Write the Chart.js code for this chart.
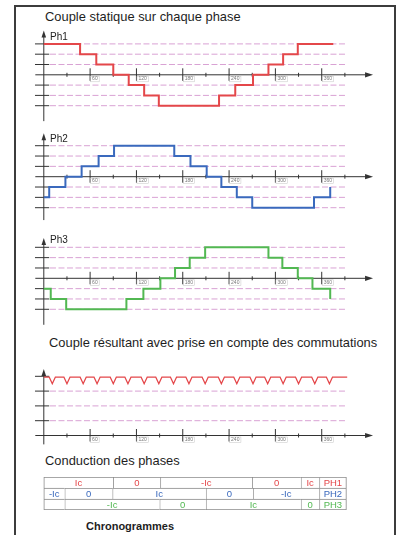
<!DOCTYPE html>
<html>
<head>
<meta charset="utf-8">
<script src="https://cdn.jsdelivr.net/npm/chart.js@4.4.1/dist/chart.umd.min.js"></script>
<style>
  html, body { margin: 0; padding: 0; background: #fff; }
  body { width: 400px; height: 535px; position: relative; overflow: hidden; font-family: "Liberation Sans", Arial, sans-serif; }
  .cadre { position: absolute; left: 14px; top: 5px; width: 382px; height: 600px; border: 2px solid #3c3c3c; box-sizing: border-box; }
  .titre { position: absolute; font-size: 12.9px; line-height: 1; color: #1e1e1e; white-space: nowrap; }
  .titre.gras { font-weight: bold; font-size: 11px; }
  canvas { position: absolute; left: 0; }
</style>
</head>
<body>
<div class="cadre"></div>
<div class="titre" style="left:45px;top:11px">Couple statique sur chaque phase</div>
<div class="titre" style="left:49px;top:337px">Couple résultant avec prise en compte des commutations</div>
<div class="titre" style="left:45px;top:455px">Conduction des phases</div>
<div class="titre gras" style="left:86px;top:521px">Chronogrammes</div>

<canvas id="ph1" width="400" height="104" style="top:24px"></canvas>
<canvas id="ph2" width="400" height="102" style="top:128px"></canvas>
<canvas id="ph3" width="400" height="100" style="top:230px"></canvas>
<canvas id="resultant" width="400" height="95" style="top:355px"></canvas>
<canvas id="conduction" width="400" height="33" style="top:477px"></canvas>

<script>
const majorTicks = [60, 120, 180, 240, 300, 360];
const minorTicks = [30, 90, 150, 210, 270, 330, 390];
const tickLabels = ["60", "120", "180", "240", "300", "360"];

// couple statique : angle de chaque changement de palier -> nouveau palier
const ph1Angles = [0, 47, 68, 90, 110, 130, 149, 227, 248, 271, 291, 310, 329, 375];
const ph1Levels = [3, 2, 1, 0, -1, -2, -3, -2, -1, 0, 1, 2, 3, 3];
const ph2Angles = [0, 7, 28, 49, 71, 91, 169, 190, 211, 230, 250, 270, 350, 371];
const ph2Levels = [-2, -1, 0, 1, 2, 3, 2, 1, 0, -1, -2, -3, -2, -1];
const ph3Angles = [0, 9, 29, 107, 129, 151, 170, 189, 209, 291, 309, 329, 348, 371];
const ph3Levels = [-1, -2, -3, -2, -1, 0, 1, 2, 3, 2, 1, 0, -1, -2];
const phaseGridLevels = [3, 2, 1, -1, -2, -3];

// couple résultant : creux aux commutations
const dipAngles = [11, 30, 51, 69, 90, 109, 130, 149, 168, 188, 209, 230, 250, 271, 290, 310, 330, 351, 370];
const resultantLevel = 3.95;
const dipLevel = 3.5;
const resultantGridLevels = [3, 2, 1];

// conduction des phases : [début, fin] de chaque case
const tableRows = ["PH1", "PH2", "PH3"];
const ph1Cells = [[0, 90], [90, 151], [151, 270], [270, 333], [333, 357], [357, 392]];
const ph2Cells = [[0, 27], [27, 89], [89, 210], [210, 271], [271, 357], [357, 392]];
const ph3Cells = [[0, 27], [27, 150], [150, 210], [210, 333], [333, 357], [357, 392]];
const ph1Texts = ["Ic", "0", "-Ic", "0", "Ic", "PH1"];
const ph2Texts = ["-Ic", "0", "Ic", "0", "-Ic", "PH2"];
const ph3Texts = ["", "-Ic", "0", "Ic", "0", "PH3"];

// --- mise en page ---
const X0 = 43.8, PX_PER_DEG = 0.772;
const xMin = -X0 / PX_PER_DEG, xMax = (400 - X0) / PX_PER_DEG;
const FONT = "'Liberation Sans', Arial, sans-serif";
const RED = "#e4474a", BLUE = "#3a69bd", GREEN = "#52b852";
const DASH = "#d9a2d4", AXIS = "#333";

// axes, flèches, graduations
const axesPlugin = {
    id: "axes",
    beforeDatasetsDraw(chart, args, o) {
        if (!o || !o.on) return;
        const ctx = chart.ctx;
        const px = v => chart.scales.x.getPixelForValue(v);
        const py = v => chart.scales.y.getPixelForValue(v);
        const x0 = px(0), y0 = py(0);
        ctx.save();
        ctx.strokeStyle = AXIS; ctx.fillStyle = AXIS; ctx.lineWidth = 1;
        const seg = (a, b, c, d) => { ctx.beginPath(); ctx.moveTo(a, b); ctx.lineTo(c, d); ctx.stroke(); };
        // axe horizontal + flèche
        const tip = px(426.5);
        seg(px(-11), y0, tip - 5, y0);
        ctx.beginPath(); ctx.moveTo(tip, y0); ctx.lineTo(tip - 8, y0 - 2.6); ctx.lineTo(tip - 8, y0 + 2.6); ctx.closePath(); ctx.fill();
        // axe vertical + flèche
        const top = py(o.yTop);
        seg(x0, py(o.yBottom), x0, top + 5);
        ctx.beginPath(); ctx.moveTo(x0, top); ctx.lineTo(x0 - 2.3, top + 7); ctx.lineTo(x0 + 2.3, top + 7); ctx.closePath(); ctx.fill();
        // graduations verticales
        o.yTicks.forEach(l => seg(px(-11.4), py(l), px(7), py(l)));
        // graduations horizontales
        majorTicks.forEach(d => seg(px(d), y0 - 6.5, px(d), y0 + 6));
        minorTicks.forEach(d => seg(px(d), y0 - 2, px(d), y0 + 2));
        ctx.font = "5px " + FONT;
        ctx.textBaseline = "middle";
        majorTicks.forEach((d, i) => {
            const w = ctx.measureText(tickLabels[i]).width;
            ctx.strokeStyle = "#c4c4c4"; ctx.lineWidth = 0.5;
            ctx.strokeRect(px(d) + 0.5, y0 + 1.5, w + 3, 5.5);
            ctx.fillStyle = "#7a7a7a";
            ctx.fillText(tickLabels[i], px(d) + 2, y0 + 4.3);
        });
        if (o.label) {
            ctx.fillStyle = "#222";
            ctx.font = "10px " + FONT;
            ctx.fillText(o.label, px(8), py(3.65));
        }
        ctx.restore();
    }
};

function dashed(levels) {
    return levels.map(l => ({
        data: [{ x: 8, y: l }, { x: 393, y: l }],
        borderColor: DASH, borderWidth: 1, borderDash: [6, 2.5], pointRadius: 0
    }));
}

function lineChart(id, axisY, step, main, grid, axes) {
    const c = document.getElementById(id);
    const top = parseFloat(c.style.top), h = c.height;
    new Chart(c, {
        type: "line",
        data: { datasets: [main].concat(dashed(grid)) },
        options: {
            responsive: false, animation: false,
            layout: { padding: 0 },
            plugins: { legend: { display: false }, tooltip: { enabled: false }, axes: axes },
            scales: {
                x: { type: "linear", min: xMin, max: xMax, display: false },
                y: { min: (axisY - top - h) / step, max: (axisY - top) / step, display: false }
            }
        },
        plugins: [axesPlugin]
    });
}

function stepSeries(angles, levels, color) {
    return {
        data: angles.map((a, i) => ({ x: a, y: levels[i] })),
        stepped: true, borderColor: color, borderWidth: 2, pointRadius: 0, fill: false
    };
}

lineChart("ph1", 74.8, 10.3, stepSeries(ph1Angles, ph1Levels, RED), phaseGridLevels,
    { on: true, yTicks: phaseGridLevels, yTop: 4.3, yBottom: -4.5, label: "Ph1" });
lineChart("ph2", 176.7, 10.33, stepSeries(ph2Angles, ph2Levels, BLUE), phaseGridLevels,
    { on: true, yTicks: phaseGridLevels, yTop: 4.2, yBottom: -4.2, label: "Ph2" });
lineChart("ph3", 278.3, 10.33, stepSeries(ph3Angles, ph3Levels, GREEN), phaseGridLevels,
    { on: true, yTicks: phaseGridLevels, yTop: 3.9, yBottom: -4.5, label: "Ph3" });

// couple résultant : palier haut avec un V à chaque commutation
const resultantPoints = [{ x: 0, y: resultantLevel }];
dipAngles.forEach(a => {
    resultantPoints.push({ x: a - 4, y: resultantLevel }, { x: a, y: dipLevel }, { x: a + 4, y: resultantLevel });
});
resultantPoints.push({ x: 393, y: resultantLevel });

lineChart("resultant", 435.5, 14.8,
    { data: resultantPoints, borderColor: RED, borderWidth: 1.3, pointRadius: 0, tension: 0 },
    resultantGridLevels,
    { on: true, yTicks: [4, 3, 2, 1], yTop: 4.5, yBottom: -0.6, label: "" });

// tableau de conduction : barres flottantes
const allCells = [ph1Cells, ph2Cells, ph3Cells];
const allTexts = [ph1Texts, ph2Texts, ph3Texts];
const rowColors = [RED, BLUE, GREEN];

const cellText = {
    id: "cellText",
    afterDatasetsDraw(chart) {
        const ctx = chart.ctx;
        ctx.save();
        ctx.font = "9.5px " + FONT;
        ctx.textAlign = "center";
        ctx.textBaseline = "middle";
        chart.data.datasets.forEach((ds, k) => {
            chart.getDatasetMeta(k).data.forEach((bar, r) => {
                const p = bar.getProps(["x", "base", "y"], true);
                ctx.fillStyle = rowColors[r];
                ctx.fillText(allTexts[r][k], (p.x + p.base) / 2, p.y + 0.5);
            });
        });
        ctx.restore();
    }
};

new Chart(document.getElementById("conduction"), {
    type: "bar",
    data: {
        labels: tableRows,
        datasets: ph1Cells.map((_, k) => ({
            data: allCells.map(row => row[k]),
            backgroundColor: "#fff",
            borderColor: "#8a8a8a",
            borderWidth: c => ({ top: 1, left: 1, right: k === ph1Cells.length - 1 ? 1 : 0, bottom: c.dataIndex === 2 ? 1 : 0 }),
            borderSkipped: false,
            grouped: false,
            barPercentage: 1,
            categoryPercentage: 1
        }))
    },
    options: {
        indexAxis: "y",
        responsive: false, animation: false,
        layout: { padding: 0 },
        plugins: { legend: { display: false }, tooltip: { enabled: false } },
        scales: {
            x: { type: "linear", min: xMin, max: xMax, display: false },
            y: { display: false }
        }
    },
    plugins: [cellText]
});
</script>
</body>
</html>
